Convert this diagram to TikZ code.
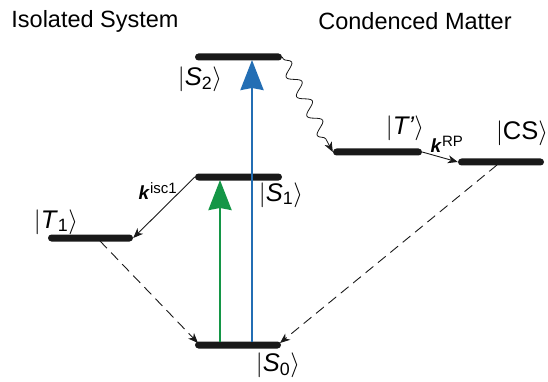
\documentclass[tikz,border=0pt]{standalone}
\usepackage{fontspec}
\setmainfont{Liberation Sans}
\usetikzlibrary{arrows.meta,decorations.pathmorphing}
\definecolor{excgreen}{RGB}{20,150,70}
\definecolor{excblue}{RGB}{35,110,180}
\definecolor{barblack}{RGB}{25,25,25}
\newcommand{\ketlbl}[2]{$\Bigl|$\textit{#1}\textsubscript{#2}$\Bigr\rangle$}
\begin{document}
\begin{tikzpicture}[x=1pt,y=-1pt,
  lvl/.style={fill=barblack, rounded corners=3.5pt, minimum height=7pt, inner sep=0pt, draw=none},
  bigarrow/.style={line width=2.6pt, -{Stealth[length=30pt,width=23pt,inset=2pt]}},
  thinarrow/.style={line width=0.9pt, barblack, -{Stealth[length=10pt,width=8pt,inset=3pt]}},
  dasharrow/.style={thinarrow, dash pattern=on 10pt off 6pt},
  ketstyle/.style={font=\fontsize{25.5}{30}\selectfont, inner sep=0pt},
  ttl/.style={font=\fontsize{23.5}{28}\selectfont, inner sep=0pt}]
\useasboundingbox (0,0) rectangle (548,382);
% titles
\node[ttl] (titleL) at (95,21) {Isolated System};
\node[ttl] (titleR) at (415,21) {Condenced Matter};
% levels
\node[lvl, minimum width=87pt] (S2) at (238.5,57) {};
\node[lvl, minimum width=87pt] (S1) at (238.5,177) {};
\node[lvl, minimum width=86pt] (S0) at (238,345) {};
\node[lvl, minimum width=85pt] (T1) at (90.5,238) {};
\node[lvl, minimum width=89pt] (Tp) at (377.5,152) {};
\node[lvl, minimum width=86pt] (CS) at (501,162) {};
% helper coordinates
\coordinate (g0) at (220,342);
\coordinate (g1) at (220,180);
\coordinate (b0) at (252,342);
\coordinate (b2) at (252,60);
\coordinate (t1s) at (100,241);
\coordinate (s0l) at (198,343);
\coordinate (css) at (497,165);
\coordinate (s0r) at (280,343);
% excitation arrows
\draw[bigarrow, excgreen] (g0) -- (g1);
\draw[bigarrow, excblue] (b0) -- (b2);
% isc
\draw[thinarrow] (S1.west) -- (T1.east);
\node[inner sep=0pt] (kisc) at (158,191) {\fontsize{19}{22}\selectfont\textbf{\textit{k}}\textsuperscript{\fontsize{15}{17}\selectfont isc1}};
% wavy
\draw[thinarrow, line width=0.8pt, decorate, decoration={snake, amplitude=6pt, segment length=22pt, pre length=2pt, post length=7pt}] (S2.east) -- (Tp.west);
% RP
\draw[thinarrow] (Tp.east) -- (CS.west);
\node[inner sep=0pt] (krp) at (447,144) {\fontsize{19}{22}\selectfont\textbf{\textit{k}}\textsuperscript{\fontsize{15}{17}\selectfont RP}};
% dashed
\draw[dasharrow] (t1s) -- (s0l);
\draw[dasharrow] (css) -- (s0r);
% ket labels
\node[ketstyle] (lS2) at (200,79) {\ketlbl{S}{2}};
\node[ketstyle] (lS1) at (281,195) {\ketlbl{S}{1}};
\node[ketstyle] (lS0) at (278,365) {\ketlbl{S}{0}};
\node[ketstyle] (lT1) at (56,222) {\ketlbl{T}{1}};
\node[ketstyle] (lTp) at (405,128) {$\Bigl|$\textit{T'}$\Bigr\rangle$};
\node[ketstyle] (lCS) at (522,133) {$\Bigl|$CS$\Bigr\rangle$};
\end{tikzpicture}
\end{document}
